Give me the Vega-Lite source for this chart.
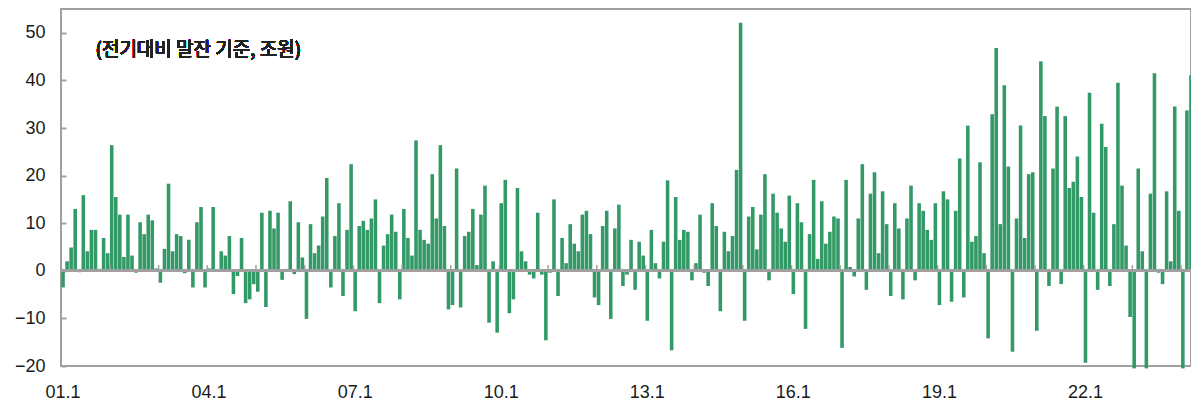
{
  "$schema": "https://vega.github.io/schema/vega-lite/v6.json",
  "width": 1130,
  "height": 357,
  "autosize": "none",
  "padding": {"left": 61, "top": 9, "right": 0, "bottom": 37},
  "background": "white",
  "config": {
    "view": {"stroke": "#a0a0a0", "strokeWidth": 2},
    "axis": {"labelFont": "Liberation Sans", "labelFontSize": 18, "labelColor": "#1a1a1a", "grid": false, "domain": false}
  },
  "datasets": {
    "d": [
      {"m":"01.1","v":-3.5},{"m":"01.2","v":2.0},{"m":"01.3","v":4.9},{"m":"01.4","v":13.0},{"m":"01.5","v":-0.3},{"m":"01.6","v":15.9},{"m":"01.7","v":4.1},{"m":"01.8","v":8.6},{"m":"01.9","v":8.6},{"m":"01.10","v":0.4},{"m":"01.11","v":6.9},{"m":"01.12","v":3.7},
      {"m":"02.1","v":26.4},{"m":"02.2","v":15.5},{"m":"02.3","v":11.8},{"m":"02.4","v":2.9},{"m":"02.5","v":11.8},{"m":"02.6","v":3.2},{"m":"02.7","v":-0.4},{"m":"02.8","v":10.2},{"m":"02.9","v":7.7},{"m":"02.10","v":11.8},{"m":"02.11","v":10.6},{"m":"02.12","v":0.5},
      {"m":"03.1","v":-2.5},{"m":"03.2","v":4.6},{"m":"03.3","v":18.3},{"m":"03.4","v":4.1},{"m":"03.5","v":7.7},{"m":"03.6","v":7.3},{"m":"03.7","v":-0.5},{"m":"03.8","v":6.5},{"m":"03.9","v":-3.5},{"m":"03.10","v":10.2},{"m":"03.11","v":13.4},{"m":"03.12","v":-3.5},
      {"m":"04.1","v":0.5},{"m":"04.2","v":13.4},{"m":"04.3","v":0.2},{"m":"04.4","v":4.1},{"m":"04.5","v":3.2},{"m":"04.6","v":7.3},{"m":"04.7","v":-4.9},{"m":"04.8","v":-1.1},{"m":"04.9","v":6.9},{"m":"04.10","v":-6.8},{"m":"04.11","v":-6.0},{"m":"04.12","v":-2.8},
      {"m":"05.1","v":-4.4},{"m":"05.2","v":12.2},{"m":"05.3","v":-7.6},{"m":"05.4","v":12.6},{"m":"05.5","v":8.9},{"m":"05.6","v":12.2},{"m":"05.7","v":-1.9},{"m":"05.8","v":0.4},{"m":"05.9","v":14.6},{"m":"05.10","v":-0.7},{"m":"05.11","v":10.2},{"m":"05.12","v":2.8},
      {"m":"06.1","v":-10.1},{"m":"06.2","v":9.8},{"m":"06.3","v":3.7},{"m":"06.4","v":5.3},{"m":"06.5","v":11.4},{"m":"06.6","v":19.5},{"m":"06.7","v":-3.5},{"m":"06.8","v":7.3},{"m":"06.9","v":14.2},{"m":"06.10","v":-5.3},{"m":"06.11","v":8.6},{"m":"06.12","v":22.4},
      {"m":"07.1","v":-8.5},{"m":"07.2","v":9.4},{"m":"07.3","v":10.5},{"m":"07.4","v":8.6},{"m":"07.5","v":11.0},{"m":"07.6","v":15.0},{"m":"07.7","v":-6.8},{"m":"07.8","v":5.3},{"m":"07.9","v":7.7},{"m":"07.10","v":11.8},{"m":"07.11","v":8.2},{"m":"07.12","v":-6.0},
      {"m":"08.1","v":13.0},{"m":"08.2","v":6.9},{"m":"08.3","v":3.2},{"m":"08.4","v":27.4},{"m":"08.5","v":8.6},{"m":"08.6","v":6.5},{"m":"08.7","v":5.7},{"m":"08.8","v":20.3},{"m":"08.9","v":11.0},{"m":"08.10","v":26.4},{"m":"08.11","v":9.4},{"m":"08.12","v":-8.1},
      {"m":"09.1","v":-7.2},{"m":"09.2","v":21.5},{"m":"09.3","v":-7.7},{"m":"09.4","v":7.3},{"m":"09.5","v":8.2},{"m":"09.6","v":13.0},{"m":"09.7","v":1.2},{"m":"09.8","v":11.8},{"m":"09.9","v":17.9},{"m":"09.10","v":-10.9},{"m":"09.11","v":2.0},{"m":"09.12","v":-13.0},
      {"m":"10.1","v":14.2},{"m":"10.2","v":19.1},{"m":"10.3","v":-8.9},{"m":"10.4","v":-6.0},{"m":"10.5","v":17.4},{"m":"10.6","v":4.1},{"m":"10.7","v":2.0},{"m":"10.8","v":-0.8},{"m":"10.9","v":-1.6},{"m":"10.10","v":12.2},{"m":"10.11","v":-0.8},{"m":"10.12","v":-14.6},
      {"m":"11.1","v":-0.4},{"m":"11.2","v":15.0},{"m":"11.3","v":-5.3},{"m":"11.4","v":6.9},{"m":"11.5","v":1.6},{"m":"11.6","v":9.8},{"m":"11.7","v":5.7},{"m":"11.8","v":4.1},{"m":"11.9","v":11.8},{"m":"11.10","v":12.6},{"m":"11.11","v":7.7},{"m":"11.12","v":-5.6},
      {"m":"12.1","v":-7.2},{"m":"12.2","v":9.4},{"m":"12.3","v":12.6},{"m":"12.4","v":-10.1},{"m":"12.5","v":8.9},{"m":"12.6","v":13.9},{"m":"12.7","v":-3.2},{"m":"12.8","v":-0.8},{"m":"12.9","v":6.5},{"m":"12.10","v":-4.0},{"m":"12.11","v":6.1},{"m":"12.12","v":3.2},
      {"m":"13.1","v":-10.5},{"m":"13.2","v":8.6},{"m":"13.3","v":1.6},{"m":"13.4","v":-1.6},{"m":"13.5","v":6.1},{"m":"13.6","v":19.0},{"m":"13.7","v":-16.7},{"m":"13.8","v":15.5},{"m":"13.9","v":6.5},{"m":"13.10","v":8.6},{"m":"13.11","v":8.2},{"m":"13.12","v":-2.0},
      {"m":"14.1","v":1.6},{"m":"14.2","v":11.8},{"m":"14.3","v":-0.4},{"m":"14.4","v":-3.2},{"m":"14.5","v":14.2},{"m":"14.6","v":9.4},{"m":"14.7","v":-8.5},{"m":"14.8","v":8.2},{"m":"14.9","v":4.1},{"m":"14.10","v":7.3},{"m":"14.11","v":21.2},{"m":"14.12","v":52.1},
      {"m":"15.1","v":-10.5},{"m":"15.2","v":11.4},{"m":"15.3","v":13.4},{"m":"15.4","v":4.5},{"m":"15.5","v":11.8},{"m":"15.6","v":20.3},{"m":"15.7","v":-2.0},{"m":"15.8","v":16.2},{"m":"15.9","v":12.2},{"m":"15.10","v":8.9},{"m":"15.11","v":6.1},{"m":"15.12","v":15.8},
      {"m":"16.1","v":-4.9},{"m":"16.2","v":14.2},{"m":"16.3","v":10.2},{"m":"16.4","v":-12.2},{"m":"16.5","v":7.7},{"m":"16.6","v":19.1},{"m":"16.7","v":2.5},{"m":"16.8","v":14.6},{"m":"16.9","v":5.7},{"m":"16.10","v":8.2},{"m":"16.11","v":11.4},{"m":"16.12","v":11.0},
      {"m":"17.1","v":-16.2},{"m":"17.2","v":19.1},{"m":"17.3","v":0.8},{"m":"17.4","v":-1.2},{"m":"17.5","v":11.0},{"m":"17.6","v":22.4},{"m":"17.7","v":-4.0},{"m":"17.8","v":16.2},{"m":"17.9","v":20.7},{"m":"17.10","v":3.7},{"m":"17.11","v":16.7},{"m":"17.12","v":9.8},
      {"m":"18.1","v":-5.3},{"m":"18.2","v":14.2},{"m":"18.3","v":8.9},{"m":"18.4","v":-6.0},{"m":"18.5","v":11.0},{"m":"18.6","v":17.9},{"m":"18.7","v":-2.0},{"m":"18.8","v":14.2},{"m":"18.9","v":12.6},{"m":"18.10","v":8.6},{"m":"18.11","v":6.5},{"m":"18.12","v":14.2},
      {"m":"19.1","v":-7.2},{"m":"19.2","v":16.7},{"m":"19.3","v":15.0},{"m":"19.4","v":-6.5},{"m":"19.5","v":12.6},{"m":"19.6","v":23.6},{"m":"19.7","v":-5.6},{"m":"19.8","v":30.5},{"m":"19.9","v":6.1},{"m":"19.10","v":7.3},{"m":"19.11","v":22.8},{"m":"19.12","v":3.7},
      {"m":"20.1","v":-14.2},{"m":"20.2","v":32.9},{"m":"20.3","v":46.8},{"m":"20.4","v":9.8},{"m":"20.5","v":39.0},{"m":"20.6","v":21.9},{"m":"20.7","v":-17.0},{"m":"20.8","v":11.0},{"m":"20.9","v":30.5},{"m":"20.10","v":6.9},{"m":"20.11","v":20.3},{"m":"20.12","v":20.7},
      {"m":"21.1","v":-12.6},{"m":"21.2","v":44.0},{"m":"21.3","v":32.5},{"m":"21.4","v":-3.2},{"m":"21.5","v":21.5},{"m":"21.6","v":34.5},{"m":"21.7","v":-2.8},{"m":"21.8","v":32.5},{"m":"21.9","v":17.4},{"m":"21.10","v":18.7},{"m":"21.11","v":24.0},{"m":"21.12","v":15.5},
      {"m":"22.1","v":-19.3},{"m":"22.2","v":37.4},{"m":"22.3","v":12.2},{"m":"22.4","v":-4.0},{"m":"22.5","v":30.9},{"m":"22.6","v":26.0},{"m":"22.7","v":-3.2},{"m":"22.8","v":9.8},{"m":"22.9","v":39.5},{"m":"22.10","v":17.9},{"m":"22.11","v":5.3},{"m":"22.12","v":-9.7},
      {"m":"23.1","v":-20.5},{"m":"23.2","v":21.5},{"m":"23.3","v":4.1},{"m":"23.4","v":-20.5},{"m":"23.5","v":16.2},{"m":"23.6","v":41.5},{"m":"23.7","v":-0.4},{"m":"23.8","v":-2.8},{"m":"23.9","v":16.7},{"m":"23.10","v":2.0},{"m":"23.11","v":34.5},{"m":"23.12","v":12.6},
      {"m":"24.1","v":-20.5},{"m":"24.2","v":33.7},{"m":"24.3","v":41.1}
    ]
  },
  "data": {"name": "d"},
  "encoding": {
    "x": {
      "field": "m", "type": "ordinal", "sort": null,
      "scale": {"range": [0, 1132], "paddingInner": 0.12, "paddingOuter": 0.06},
      "axis": {"title": null, "values": ["01.1","04.1","07.1","10.1","13.1","16.1","19.1","22.1"], "labelAngle": 0, "ticks": false, "tickSize": 0, "labelPadding": 17}
    }
  },
  "layer": [
    {
      "mark": {"type": "bar", "color": "#339966"},
      "encoding": {
        "y": {
          "field": "v", "type": "quantitative",
          "scale": {"domain": [-20, 55], "nice": false},
          "axis": {"title": null, "values": [-20,-10,0,10,20,30,40,50], "tickSize": -5, "tickColor": "#a0a0a0", "tickWidth": 2, "labelPadding": 21}
        }
      }
    },
    {
      "mark": {"type": "rule", "color": "#a0a0a0", "strokeWidth": 2},
      "encoding": {"y": {"datum": 0}, "x": null}
    },
    {
      "transform": [{"filter": "test(/\\.1$/, datum.m)"}],
      "mark": {"type": "rule", "color": "#a0a0a0", "strokeWidth": 1.5},
      "encoding": {
        "x": {"field": "m", "type": "ordinal", "sort": null, "bandPosition": 0},
        "y": {"datum": 0},
        "y2": {"datum": 1.2}
      }
    },
    {
      "mark": {"type": "text", "align": "left", "baseline": "middle", "font": "Noto Sans CJK SC", "fontWeight": "normal", "fontSize": 19, "color": "#222222"},
      "encoding": {
        "x": {"datum": "01.9"},
        "y": {"datum": 46.4},
        "text": {"value": "(전기대비 말잔 기준, 조원)"}
      }
    }
  ]
}
